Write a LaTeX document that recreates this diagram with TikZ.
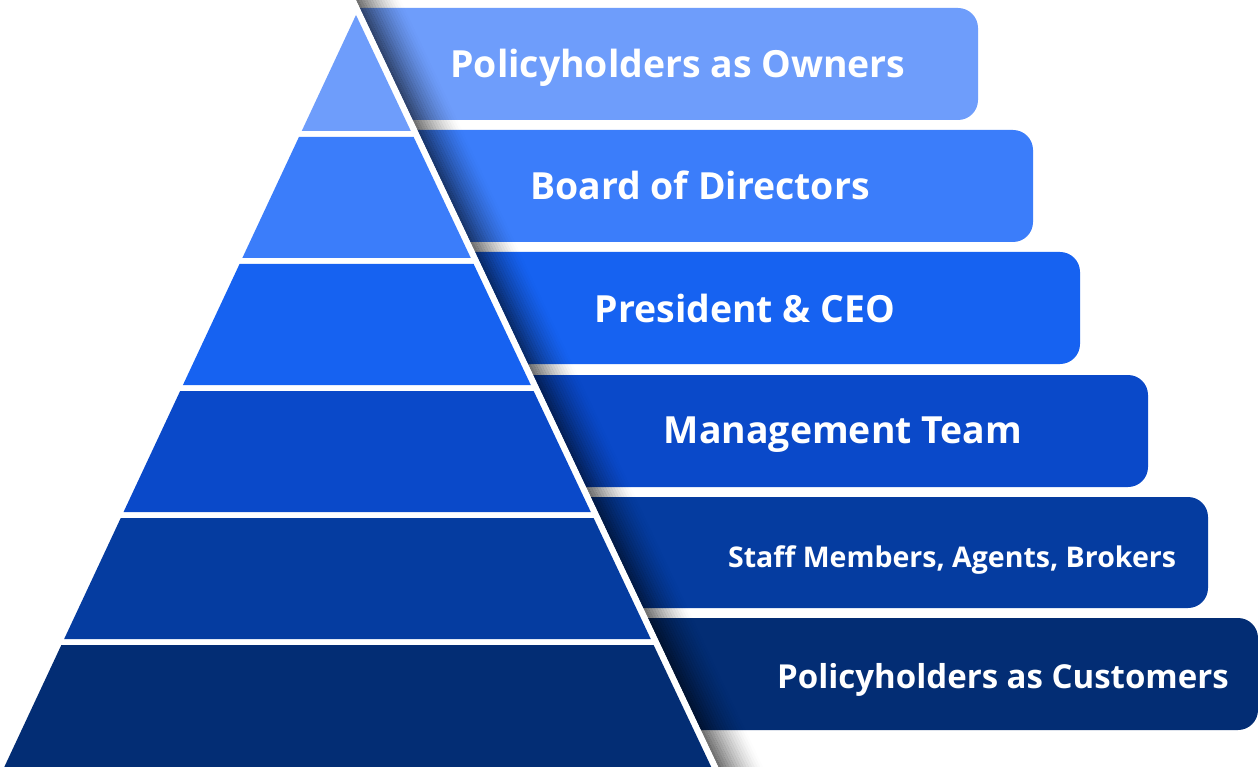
\documentclass[tikz,border=0pt]{standalone}
\usepackage{fontspec}
\setmainfont{Open Sans}
\begin{document}
\begin{tikzpicture}[x=1pt,y=-1pt,
  lbl/.style={text=white,font=\bfseries\fontsize{37.4}{40}\selectfont,inner sep=0pt,anchor=base},
  lblsmall/.style={lbl,font=\bfseries\fontsize{28.5}{32}\selectfont},
  lblmid/.style={lbl,font=\bfseries\fontsize{33}{36}\selectfont}]
\definecolor{c1}{HTML}{6E9DFB}
\definecolor{c2}{HTML}{3B7DFA}
\definecolor{c3}{HTML}{1662F1}
\definecolor{c4}{HTML}{0A49C9}
\definecolor{c5}{HTML}{053CA0}
\definecolor{c6}{HTML}{032D74}
\def\ax{356}\def\ay{15}\def\sl{0.4677}\def\sr{0.4724}
\useasboundingbox (0,0) rectangle (1258,767);
\fill[white] (0,0) rectangle (1258,767);
% tabs
\begin{scope}
\clip ({\ax+7+\sr*(-20-\ay)},-20) -- (1300,-20) -- (1300,800) -- ({\ax+7+\sr*(800-\ay)},800) -- cycle;
\foreach \t/\b/\r/\c in {8/120/978/c1,130/242/1033/c2,252/364/1080/c3,375/487/1148/c4,497/608/1208/c5,618/730/1258/c6}{
  \fill[\c,rounded corners=20] (250,\t) rectangle (\r,\b);
}
\end{scope}
% shadow along the diagonal
\foreach \i in {0,...,15}{
  \pgfmathsetmacro{\oa}{7+2.8*\i}
  \pgfmathsetmacro{\ob}{7+2.8*(\i+1)}
  \pgfmathsetmacro{\op}{0.55*(1-\i/16)^1.5}
  \fill[black,opacity=\op] ({\ax+\oa+\sr*(-20-\ay)},-20) -- ({\ax+\ob+\sr*(-20-\ay)},-20) -- ({\ax+\ob+\sr*(800-\ay)},800) -- ({\ax+\oa+\sr*(800-\ay)},800) -- cycle;
}
% white stripe
\fill[white] ({\ax+\sr*(-20-\ay)},-20) -- ({\ax+7+\sr*(-20-\ay)},-20) -- ({\ax+7+\sr*(800-\ay)},800) -- ({\ax+\sr*(800-\ay)},800) -- cycle;
% pyramid bands
\foreach \t/\b/\c in {15/131/c1,137/258/c2,264/385/c3,391/512/c4,518/639/c5,645/767/c6}{
  \fill[\c] ({\ax-\sl*(\t-\ay)},\t) -- ({\ax+\sr*(\t-\ay)},\t) -- ({\ax+\sr*(\b-\ay)},\b) -- ({\ax-\sl*(\b-\ay)},\b) -- cycle;
}
% labels
\node[lbl] (t1) at (678,78) {Policyholders as Owners};
\node[lbl] (t2) at (700,200) {Board of Directors};
\node[lbl] (t3) at (745,322) {President \& CEO};
\node[lbl] (t4) at (843,443) {Management Team};
\node[lblsmall] (t5) at (952,567) {Staff Members, Agents, Brokers};
\node[lblmid] (t6) at (1003,688) {Policyholders as Customers};
\end{tikzpicture}
\end{document}
